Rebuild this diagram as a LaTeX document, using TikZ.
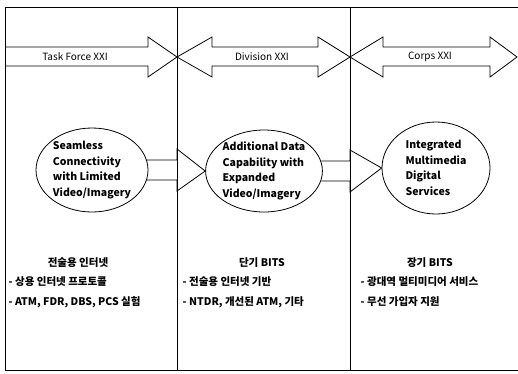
\documentclass[tikz,border=0pt]{standalone}
\usepackage{fontspec}
\setmainfont{Noto Sans CJK KR}
\usetikzlibrary{shapes.geometric,calc}

\tikzset{
  stage/.style={ellipse, draw, fill=white, inner sep=0pt, align=left,
    font=\fontsize{10.5}{15.5}\selectfont\bfseries},
  bandlabel/.style={font=\fontsize{10}{12}\selectfont},
  era/.style={font=\fontsize{10.5}{12}\selectfont\bfseries},
  item/.style={anchor=west, font=\fontsize{10.5}{12}\selectfont\bfseries}
}

\begin{document}
\begin{tikzpicture}[x=1pt, y=-1pt, line width=0.8pt]
  \useasboundingbox (0,0) rectangle (518,373);

  % Frame (open on the right) and column dividers
  \draw (518,7) -- (5,7) -- (5,370) -- (518,370);
  \coordinate (d1) at (177,7);
  \coordinate (d2) at (350,7);
  \draw (d1) -- (177,370);
  \draw (d2) -- (350,370);

  % Top band: phases
  \draw (5,47) -- (148,47) -- (148,37) -- (177,57) -- (148,77) -- (148,66) -- (5,66);
  \node[bandlabel] (tf) at (75,57) {Task Force XXI};

  \draw (177,57) -- (212,37) -- (212,47) -- (318,47) -- (318,37) -- (350,57)
    -- (318,77) -- (318,66) -- (212,66) -- (212,77) -- cycle;
  \node[bandlabel] (div) at (262,57) {Division XXI};

  \draw (350,57) -- (383,37) -- (383,47) -- (490,47) -- (490,37) -- (517,57)
    -- (490,77) -- (490,66) -- (383,66) -- (383,77) -- cycle;
  \node[bandlabel] (corps) at (430,57) {Corps XXI};

  % Capabilities
  \node[stage, minimum width=112pt, minimum height=84pt] (e1) at (92,170)
    {Seamless\\Connectivity\\with Limited\\Video/Imagery};
  \node[stage, minimum width=112pt, minimum height=82pt] (e2) at (264,171)
    {Additional Data\\Capability with\\Expanded\\Video/Imagery};
  \node[stage, minimum width=108pt, minimum height=92pt] (e3) at (436,168)
    {Integrated\\Multimedia\\Digital\\Services};

  % Block arrows between capabilities
  \coordinate (a1) at ([xshift=-1.5pt,yshift=10pt]e1.east);
  \coordinate (b1) at ([xshift=-1.5pt,yshift=-10pt]e1.east);
  \draw (a1) -- (a1 -| d1) -- ([yshift=11pt]a1 -| d1) -- (e2.west)
    -- ([yshift=-11pt]b1 -| d1) -- (b1 -| d1) -- (b1);
  \coordinate (a2) at ([xshift=-1.5pt,yshift=10pt]e2.east);
  \coordinate (b2) at ([xshift=-1.5pt,yshift=-10pt]e2.east);
  \draw (a2) -- (a2 -| d2) -- ([yshift=11pt]a2 -| d2) -- (e3.west)
    -- ([yshift=-11pt]b2 -| d2) -- (b2 -| d2) -- (b2);

  % Programs
  \node[era] (p1) at (78,263) {전술용 인터넷};
  \node[item] (p1a) at (5,282) {- 상용 인터넷 프로토콜};
  \node[item] (p1b) at (5,302) {- ATM, FDR, DBS, PCS 실험};

  \node[era] (p2) at (262,263) {단기 BITS};
  \node[item] (p2a) at (179,282) {- 전술용 인터넷 기반};
  \node[item] (p2b) at (179,302) {- NTDR, 개선된 ATM, 기타};

  \node[era] (p3) at (430,263) {장기 BITS};
  \node[item] (p3a) at (357,282) {- 광대역 멀티미디어 서비스};
  \node[item] (p3b) at (357,302) {- 무선 가입자 지원};
\end{tikzpicture}
\end{document}
